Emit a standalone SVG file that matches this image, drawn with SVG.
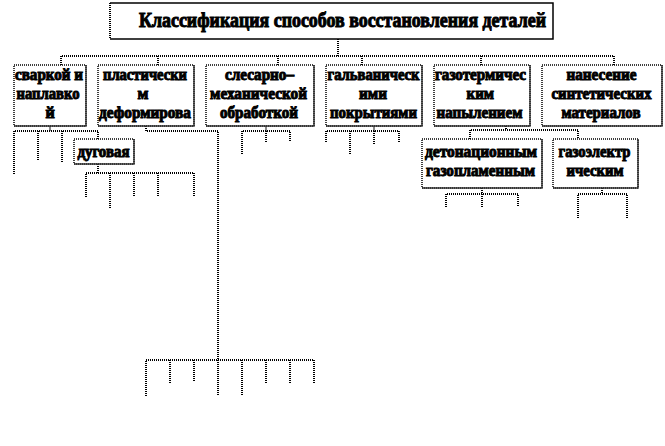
<svg xmlns="http://www.w3.org/2000/svg" width="665" height="446" viewBox="0 0 665 446">
<style>
.bg{fill:#fff}
.bx{fill:#fff;stroke:#000;stroke-width:1.5;stroke-dasharray:1 1}
.sh{fill:none;stroke:#333;stroke-width:1.5}
.c{fill:none;stroke:#000;stroke-width:2;stroke-dasharray:1 1}
.st{fill:none;stroke:#888;stroke-width:2}
text{font-family:'Liberation Serif',serif;font-weight:700;fill:#000;stroke:#000;stroke-width:1}
.t{font-size:20px}
.n{font-size:16px}
</style>
<rect class="bg" x="0" y="0" width="665" height="446"/>
<g id="connectors">
<path class="st" d="M338 33V39M50 126V131M266 126V131M374 126V131"/>
<path class="c" d="M338 39V56M61 65V56H614V65M158 56V65M278 56V65M362 56V65M481 56V65"/>
<path class="c" d="M14 174V131H98V139M38 131V161M62 131V163"/>
<path class="c" d="M98 164V173M86 197V173H194V197M110 173V209M134 173V197M158 173V197"/>
<path class="c" d="M146 126V131H218V395"/>
<path class="c" d="M146 396V360H314V383M170 360V383M194 360V381M242 360V396M266 360V383M290 360V383"/>
<path class="c" d="M242 154V131H290V142M266 131V142"/>
<path class="c" d="M326 142V131H399V142M350 131V154M374 131V144"/>
<path class="c" d="M506 126V130M470 139V130H578V139"/>
<path class="c" d="M482 188V194M446 207V194H518V207M482 194V207"/>
<path class="c" d="M602 188V194M578 218V194H627V218"/>
</g>
<g id="title">
<rect x="110" y="3" width="443" height="36" fill="#fff"/>
<path d="M110 3H553V39H110" fill="none" stroke="#000" stroke-width="1.5"/>
<path d="M110 3V39" class="c" stroke="#777"/>
<text class="t" x="139" y="27" textLength="407" lengthAdjust="spacingAndGlyphs">Классификация способов восстановления деталей</text>
</g>
<g id="n1">
<rect class="bx" x="14" y="65" width="72" height="61"/>
<path class="sh" d="M86 65V126H14"/>
<text class="n" x="15" y="80" textLength="68" lengthAdjust="spacingAndGlyphs">сваркой и</text>
<text class="n" x="16.5" y="99" textLength="63" lengthAdjust="spacingAndGlyphs">наплавко</text>
<text class="n" x="50" y="118" text-anchor="middle">й</text>
</g>
<g id="n2">
<rect class="bx" x="98" y="65" width="96" height="61"/>
<path class="sh" d="M194 65V126H98"/>
<text class="n" x="103" y="80" textLength="84" lengthAdjust="spacingAndGlyphs">пластически</text>
<text class="n" x="143" y="99" text-anchor="middle">м</text>
<text class="n" x="99" y="118" textLength="92" lengthAdjust="spacingAndGlyphs">деформирова</text>
</g>
<g id="n3">
<rect class="bx" x="206" y="65" width="108" height="61"/>
<path class="sh" d="M314 65V126H206"/>
<text class="n" x="225" y="80" textLength="69" lengthAdjust="spacingAndGlyphs">слесарно–</text>
<text class="n" x="210" y="99" textLength="97" lengthAdjust="spacingAndGlyphs">механической</text>
<text class="n" x="220" y="118" textLength="78" lengthAdjust="spacingAndGlyphs">обработкой</text>
</g>
<g id="n4">
<rect class="bx" x="326" y="65" width="96" height="61"/>
<path class="sh" d="M422 65V126H326"/>
<text class="n" x="327.5" y="80" textLength="92" lengthAdjust="spacingAndGlyphs">гальваническ</text>
<text class="n" x="359" y="99" textLength="28" lengthAdjust="spacingAndGlyphs">ими</text>
<text class="n" x="330" y="118" textLength="87" lengthAdjust="spacingAndGlyphs">покрытиями</text>
</g>
<g id="n5">
<rect class="bx" x="434" y="65" width="96" height="61"/>
<path class="sh" d="M530 65V126H434"/>
<text class="n" x="435" y="80" textLength="91" lengthAdjust="spacingAndGlyphs">газотермичес</text>
<text class="n" x="466.5" y="99" textLength="27.5" lengthAdjust="spacingAndGlyphs">ким</text>
<text class="n" x="436.5" y="118" textLength="86" lengthAdjust="spacingAndGlyphs">напылением</text>
</g>
<g id="n6">
<rect class="bx" x="542" y="65" width="120" height="61"/>
<path class="sh" d="M662 65V126H542"/>
<text class="n" x="566.5" y="80" textLength="70" lengthAdjust="spacingAndGlyphs">нанесение</text>
<text class="n" x="551.5" y="99" textLength="100" lengthAdjust="spacingAndGlyphs">синтетических</text>
<text class="n" x="561.5" y="118" textLength="79" lengthAdjust="spacingAndGlyphs">материалов</text>
</g>
<g id="n7">
<rect class="bx" x="74" y="139" width="60" height="25"/>
<path class="sh" d="M134 139V164H74"/>
<text class="n" x="77.5" y="157" textLength="52" lengthAdjust="spacingAndGlyphs">дуговая</text>
</g>
<g id="n8">
<rect class="bx" x="422" y="139" width="120" height="49"/>
<path class="sh" d="M542 139V188H422"/>
<text class="n" x="425" y="156.5" textLength="112" lengthAdjust="spacingAndGlyphs">детонационным</text>
<text class="n" x="426" y="175.5" textLength="109" lengthAdjust="spacingAndGlyphs">газопламенным</text>
</g>
<g id="n9">
<rect class="bx" x="553" y="139" width="85" height="49"/>
<path class="sh" d="M638 139V188H553"/>
<text class="n" x="558.5" y="156.5" textLength="72" lengthAdjust="spacingAndGlyphs">газоэлектр</text>
<text class="n" x="566.5" y="175.5" textLength="57" lengthAdjust="spacingAndGlyphs">ическим</text>
</g>
</svg>
